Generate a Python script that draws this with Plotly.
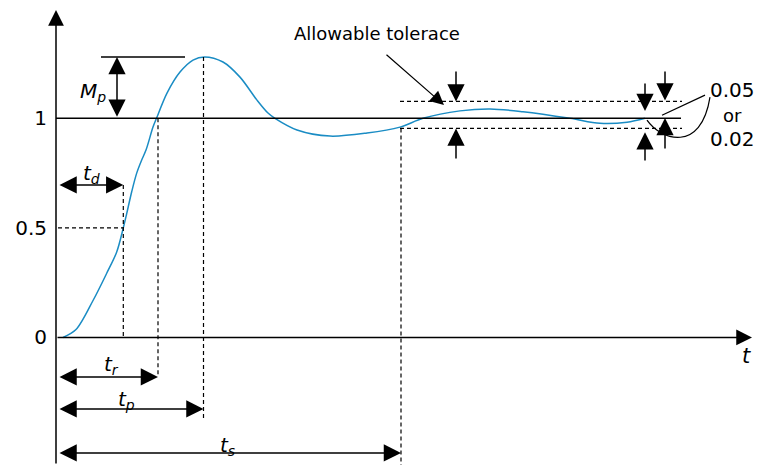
import plotly.graph_objects as go

# ---- data (time in arbitrary units, response c(t)) ----
t_vals = [0.7, 2.0, 3.73, 5.07, 6.07, 6.73, 7.07, 7.57, 8.07, 8.57, 9.0, 9.7, 10.05,
          11.1, 12.4, 13.7, 14.85, 16.7, 18.4, 20.1, 21.2, 21.9, 24.1, 27.4, 31.1, 34.4,
          36.7, 40.4, 43.4, 46.7, 51.4, 54.4, 57.1, 58.9]
c_vals = [0.0, 0.036, 0.171, 0.293, 0.39, 0.5, 0.565, 0.665, 0.75, 0.81, 0.855, 0.96, 1.0,
          1.115, 1.211, 1.266, 1.28, 1.257, 1.188, 1.083, 1.024, 1.0, 0.947, 0.919, 0.933, 0.96,
          1.0, 1.034, 1.043, 1.030, 1.0, 0.977, 0.982, 1.0]

y_tickvals = [0, 0.5, 1]
y_ticktext = ["0", "0.5", "1"]

t_d, t_r, t_p, t_s = 6.73, 10.2, 14.75, 34.5
c_peak = 1.28
tol_hi, tol_lo = 1.077, 0.954
tol_start, tol_end = 34.4, 62.6
ref_end = 62.5

X_MAX, Y_MIN, Y_MAX = 70.1, -0.582, 1.54

BLUE = "#1a8cc4"
FONT = "DejaVu Sans"

fig = go.Figure()
fig.add_trace(go.Scatter(x=t_vals, y=c_vals, mode="lines",
                         line=dict(color=BLUE, width=1.5, shape="spline", smoothing=0.9),
                         hoverinfo="skip", showlegend=False))

shapes = []
def seg(x0, y0, x1, y1, dash=None, width=1.5):
    shapes.append(dict(type="line", xref="x", yref="y", x0=x0, y0=y0, x1=x1, y1=y1,
                       line=dict(color="black", width=width, dash=dash if dash else "solid")))

DASH = "4px,3px"
# reference line c=1
seg(0, 1, ref_end, 1)
# peak level line
seg(4.5, c_peak, 12.9, c_peak)
# delay time guides
seg(0.2, 0.5, t_d, 0.5, DASH, 1.2)
seg(t_d, 0.696, t_d, 0, DASH, 1.2)
# rise time guide
seg(t_r, 1, t_r, -0.180, DASH, 1.2)
# peak time guide
seg(t_p, c_peak, t_p, -0.376, DASH, 1.2)
# settling time guide
seg(t_s, tol_lo, t_s, Y_MIN, DASH, 1.2)
# tolerance band
seg(tol_start, tol_hi, tol_end, tol_hi, DASH, 1.2)
seg(tol_start, tol_lo, tol_end, tol_lo, DASH, 1.2)
# leader lines to 0.05 / 0.02
seg(60.6, 1.014, 64.9, 1.106, width=1.2)
shapes.append(dict(type="path", xref="x", yref="y",
                   path="M 59.1,0.992 C 60.5,0.90 64.5,0.84 65.4,1.097",
                   line=dict(color="black", width=1.2)))

ann = []
def arrow(xh, yh, xt, yt, double=False, size=2.3, width=1.5):
    d = dict(x=xh, y=yh, ax=xt, ay=yt, xref="x", yref="y", axref="x", ayref="y",
             text="", showarrow=True, arrowhead=2, arrowsize=size, arrowwidth=width,
             arrowcolor="black")
    if double:
        d.update(arrowside="end+start", startarrowhead=2, startarrowsize=size)
    ann.append(d)

# axes
arrow(0, 1.494, 0, Y_MIN, size=2.1)
arrow(69.6, 0, 0, 0, size=2.1)
# Mp
arrow(6.1, c_peak, 6.1, 1.0, double=True)
# time spans
arrow(t_d, 0.696, 0.2, 0.696, double=True)
arrow(t_r, -0.180, 0.2, -0.180, double=True)
arrow(t_p, -0.326, 0.2, -0.326, double=True)
arrow(t_s, -0.527, 0.2, -0.527, double=True)
# tolerance markers
arrow(40.0, tol_hi, 40.0, 1.220)
arrow(40.0, tol_lo, 40.0, 0.810)
arrow(58.9, 1.033, 58.9, 1.166)
arrow(58.9, 0.937, 58.9, 0.801)
arrow(60.9, tol_hi + 0.004, 60.9, 1.220)
arrow(60.9, 1.001, 60.9, 0.855)
# allowable tolerance pointer
arrow(38.8, 1.061, 32.9, 1.296, size=2.3, width=1.2)

def label(x, y, text, size=20, xanchor="center"):
    ann.append(dict(x=x, y=y, xref="x", yref="y", text=text, showarrow=False,
                    xanchor=xanchor, yanchor="middle",
                    font=dict(family=FONT, size=size, color="black")))

label(32.1, 1.386, "Allowable tolerace", size=18)
label(67.6, 1.129, "0.05", size=20)
label(67.6, 1.015, "or", size=18)
label(67.6, 0.904, "0.02", size=20)
label(-3.1, 1.443, "<i>c</i>(<i>t</i>)", size=19)
label(69.0, -0.084, "<i>t</i>", size=21)
label(3.7, 1.12, "<i>M</i><sub><i>p</i></sub>", size=20)
label(3.5, 0.745, "<i>t</i><sub><i>d</i></sub>", size=20)
label(5.5, -0.125, "<i>t</i><sub><i>r</i></sub>", size=20)
label(7.0, -0.285, "<i>t</i><sub><i>p</i></sub>", size=20)
label(17.1, -0.495, "<i>t</i><sub><i>s</i></sub>", size=20)

fig.update_layout(
    width=757, height=465,
    margin=dict(l=56, r=0, t=0, b=0),
    paper_bgcolor="white", plot_bgcolor="white",
    shapes=shapes, annotations=ann,
    xaxis=dict(range=[0, X_MAX], visible=False, fixedrange=True),
    yaxis=dict(range=[Y_MIN, Y_MAX], tickvals=y_tickvals, ticktext=y_ticktext,
               showgrid=False, zeroline=False, showline=False, ticks="",
               ticklabelstandoff=8,
               tickfont=dict(family=FONT, size=20, color="black"), fixedrange=True),
    showlegend=False,
)

fig.write_html("out.html", config={"displayModeBar": False},
               post_script="document.body.style.margin='0';document.body.style.overflow='hidden';")
